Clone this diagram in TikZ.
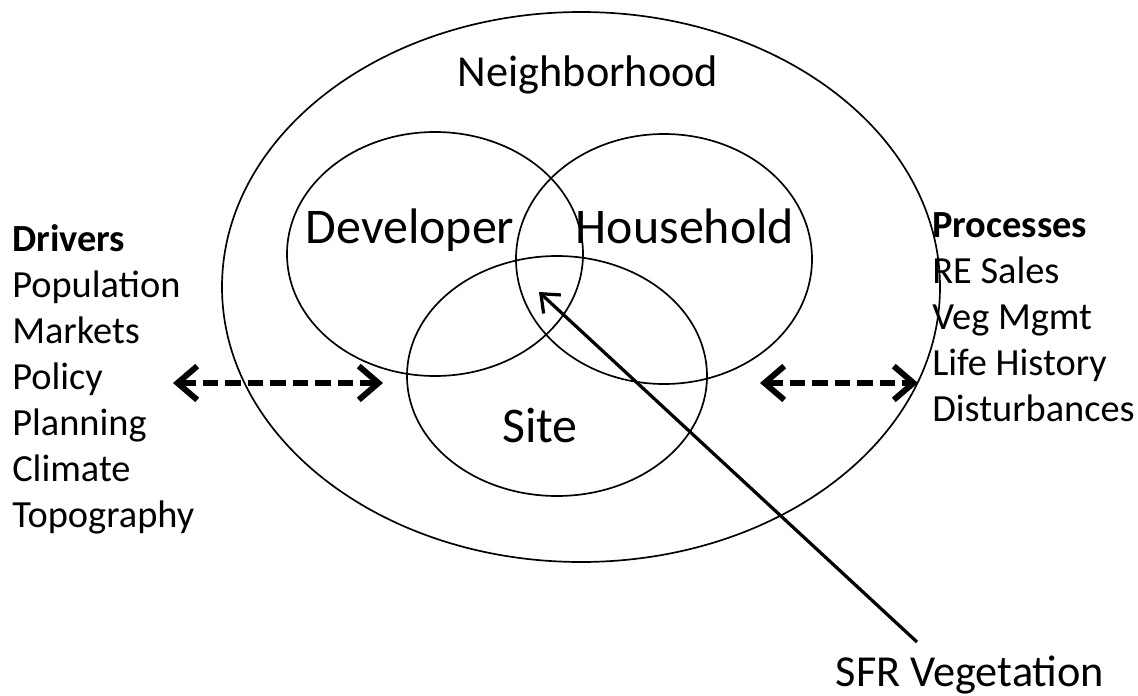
\documentclass[tikz,border=0pt]{standalone}
\usepackage{fontspec}
\setmainfont{Carlito}
\usetikzlibrary{arrows.meta}

\tikzset{
  ring/.style={draw, line width=1.2pt},
  bigtext/.style={inner sep=0pt, anchor=base, font=\fontsize{35.5}{40}\selectfont},
  midtext/.style={inner sep=0pt, anchor=base, font=\fontsize{31.5}{36}\selectfont},
  listtext/.style={inner sep=0pt, anchor=base west, align=left, font=\fontsize{27.3}{32.7}\selectfont},
  linkarrow/.style={line width=4.2pt, dash pattern=on 11pt off 5pt,
    {Straight Barb[length=14pt,width=24pt]}-{Straight Barb[length=14pt,width=24pt]}},
  pointer/.style={line width=2.3pt, -{Straight Barb[length=11pt,width=18pt]}}
}

\begin{document}
\begin{tikzpicture}[x=0.025cm, y=-0.025cm]
\useasboundingbox (0,0) rectangle (1138,696);

% nested sets
\draw[ring] (581,287) ellipse [x radius=359, y radius=275];
\draw[ring] (435,254) ellipse [x radius=148, y radius=122];
\draw[ring] (664,259) ellipse [x radius=148, y radius=125];
\draw[ring] (557,376) ellipse [x radius=150, y radius=120];

\node[midtext] (neighborhood) at (588,87) {Neighborhood};
\node[bigtext] (developer) at (410,243) {Developer};
\node[bigtext] (household) at (685,243) {Household};
\node[bigtext] (site) at (540,442) {Site};

% side lists (anchored on the last line)
\node[listtext] (drivers) at (12,527) {\textbf{Drivers}\\Population\\Markets\\Policy\\Planning\\Climate\\Topography};
\node[listtext] (processes) at (932,421) {\textbf{Processes}\\RE Sales\\Veg Mgmt\\Life History\\Disturbances};

\coordinate (driversend) at (173,383);
\coordinate (neighborleft) at (383,383);
\coordinate (neighborright) at (760,383);
\coordinate (processesend) at (918,383);
\draw[linkarrow] (driversend) -- (neighborleft);
\draw[linkarrow] (neighborright) -- (processesend);

% label pointing into the overlap
\node[midtext] (sfr) at (970,686) {SFR Vegetation};
\coordinate (sfrtail) at (917,642);
\coordinate (overlap) at (539,292);
\draw[pointer] (sfrtail) -- (overlap);
\end{tikzpicture}
\end{document}
